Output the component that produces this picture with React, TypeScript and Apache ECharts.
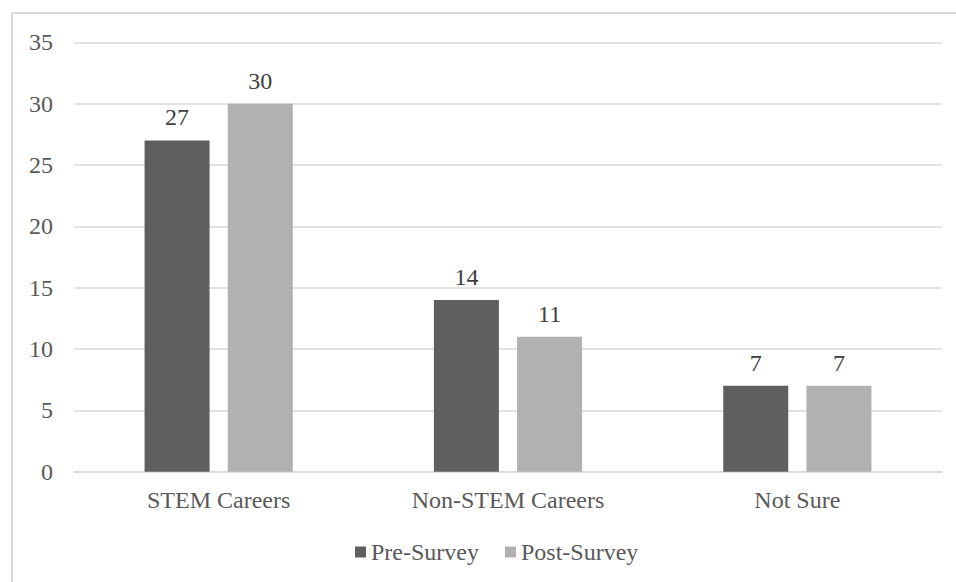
import React, { useEffect, useRef } from "react";
import * as echarts from "echarts";

const categories = ["STEM Careers", "Non-STEM Careers", "Not Sure"];
const preSurvey = [27, 14, 7];
const postSurvey = [30, 11, 7];
const seriesNames = ["Pre-Survey", "Post-Survey"];

const FONT = "Liberation Serif";
const FS = 24;

export default function App() {
  const ref = useRef<HTMLDivElement>(null);
  useEffect(() => {
    if (!ref.current) return;
    const chart = echarts.init(ref.current, null, { renderer: "svg" });
    chart.setOption({
      animation: false,
      backgroundColor: "#ffffff",
      textStyle: { fontFamily: FONT },
      graphic: [
        { type: "line", shape: { x1: 12, y1: 13, x2: 956, y2: 13 }, style: { stroke: "#d9d9d9", lineWidth: 2 } },
        { type: "line", shape: { x1: 12, y1: 13, x2: 12, y2: 582 }, style: { stroke: "#d9d9d9", lineWidth: 2 } },
      ],
      grid: { left: 74, right: 14, top: 42.3, bottom: 110.3, containLabel: false },
      legend: {
        data: seriesNames,
        left: 350,
        top: 535,
        icon: "rect",
        itemWidth: 11,
        itemHeight: 11,
        itemGap: 26,
        textStyle: { fontFamily: FONT, fontSize: FS, color: "#595959" },
      },
      xAxis: {
        type: "category",
        data: categories,
        axisLine: { show: true, lineStyle: { color: "#d9d9d9", width: 1.5 } },
        axisTick: { show: false },
        axisLabel: { fontFamily: FONT, fontSize: FS, color: "#595959", margin: 16 },
      },
      yAxis: {
        type: "value",
        min: 0,
        max: 35,
        interval: 5,
        axisLine: { show: false },
        axisTick: { show: false },
        splitLine: { lineStyle: { color: "#d9d9d9", width: 1.5 } },
        axisLabel: { fontFamily: FONT, fontSize: FS, color: "#595959", margin: 21 },
      },
      series: [
        {
          name: seriesNames[0],
          type: "bar",
          data: preSurvey,
          barWidth: 65,
          barGap: "28%",
          itemStyle: { color: "#5f5f5f" },
          label: { show: true, position: "top", distance: 11, fontFamily: FONT, fontSize: FS, color: "#404040" },
        },
        {
          name: seriesNames[1],
          type: "bar",
          data: postSurvey,
          barWidth: 65,
          barGap: "28%",
          itemStyle: { color: "#b1b1b1" },
          label: { show: true, position: "top", distance: 11, fontFamily: FONT, fontSize: FS, color: "#404040" },
        },
      ],
    });
    return () => chart.dispose();
  }, []);
  return (
    <div
      ref={ref}
      style={{ position: "fixed", left: 0, top: 0, width: 956, height: 582, background: "#fff" }}
    />
  );
}
